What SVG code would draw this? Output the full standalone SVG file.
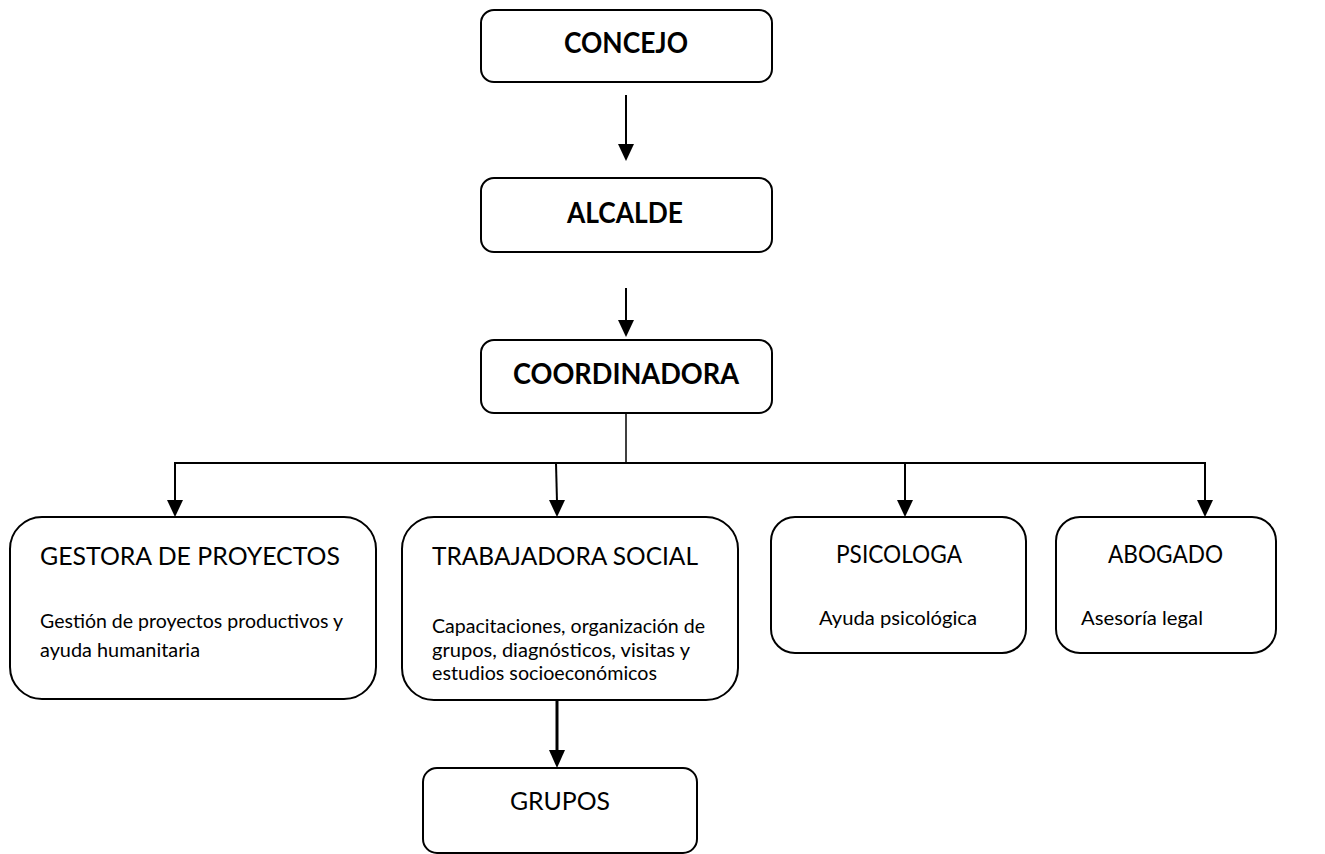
<svg xmlns="http://www.w3.org/2000/svg" width="1325" height="854" viewBox="0 0 1325 854">
<style>
.box{fill:#fff;stroke:#000;stroke-width:2}
.hb{font-family:Lato,"Open Sans","Liberation Sans",sans-serif;font-weight:bold;font-size:28px;fill:#000;text-anchor:middle}
.h{font-family:Lato,"Open Sans","Liberation Sans",sans-serif;font-size:25px;fill:#000}
.t{font-family:Lato,"Open Sans","Liberation Sans",sans-serif;font-size:18.5px;fill:#000}
.c{stroke:#000;stroke-width:2;fill:none}
</style>
<rect width="1325" height="854" fill="#fff"/>
<g id="connectors">
<line class="c" x1="626" y1="95" x2="626" y2="146"/>
<path d="M618,144 L634,144 L626,161 Z"/>
<line class="c" x1="626" y1="288" x2="626" y2="322"/>
<path d="M618,320 L634,320 L626,337 Z"/>
<line x1="626" y1="413" x2="626" y2="463" stroke="#000" stroke-width="1.5"/>
<line class="c" x1="174" y1="463" x2="1206" y2="463"/>
<line class="c" x1="175" y1="463" x2="175" y2="502"/>
<path d="M167,500 L183,500 L175,517 Z"/>
<line class="c" x1="556" y1="463" x2="557" y2="502"/>
<path d="M549,500 L565,500 L557,517 Z"/>
<line class="c" x1="905" y1="463" x2="905" y2="502"/>
<path d="M897,500 L913,500 L905,517 Z"/>
<line class="c" x1="1205" y1="463" x2="1205" y2="502"/>
<path d="M1197,500 L1213,500 L1205,517 Z"/>
<line x1="557" y1="700" x2="557" y2="752" stroke="#000" stroke-width="3"/>
<path d="M549,750 L565,750 L557,768 Z"/>
</g>
<g id="concejo">
<rect class="box" x="481" y="10" width="291" height="72" rx="13"/>
<text class="hb" x="626" y="53" textLength="124" lengthAdjust="spacingAndGlyphs">CONCEJO</text>
</g>
<g id="alcalde">
<rect class="box" x="481" y="178" width="291" height="74" rx="13"/>
<text class="hb" x="625" y="223" textLength="116" lengthAdjust="spacingAndGlyphs">ALCALDE</text>
</g>
<g id="coordinadora">
<rect class="box" x="481" y="340" width="291" height="73" rx="13"/>
<text class="hb" x="626" y="384" textLength="226" lengthAdjust="spacingAndGlyphs">COORDINADORA</text>
</g>
<g id="gestora">
<rect class="box" x="10" y="517" width="366" height="182" rx="32"/>
<text class="h" x="40" y="565" textLength="300" lengthAdjust="spacingAndGlyphs">GESTORA DE PROYECTOS</text>
<text class="t" x="40" y="628" textLength="303" lengthAdjust="spacingAndGlyphs">Gestión de proyectos productivos y</text>
<text class="t" x="40" y="657" textLength="160" lengthAdjust="spacingAndGlyphs">ayuda humanitaria</text>
</g>
<g id="trabajadora">
<rect class="box" x="402" y="517" width="336" height="183" rx="32"/>
<text class="h" x="432" y="565" textLength="266" lengthAdjust="spacingAndGlyphs">TRABAJADORA SOCIAL</text>
<text class="t" x="432" y="633" textLength="273" lengthAdjust="spacingAndGlyphs">Capacitaciones, organización de</text>
<text class="t" x="432" y="657" textLength="258" lengthAdjust="spacingAndGlyphs">grupos, diagnósticos, visitas y</text>
<text class="t" x="432" y="680" textLength="225" lengthAdjust="spacingAndGlyphs">estudios socioeconómicos</text>
</g>
<g id="psicologa">
<rect class="box" x="771" y="517" width="255" height="136" rx="24"/>
<text class="h" x="836" y="563" textLength="126" lengthAdjust="spacingAndGlyphs">PSICOLOGA</text>
<text class="t" x="819" y="625" textLength="158" lengthAdjust="spacingAndGlyphs">Ayuda psicológica</text>
</g>
<g id="abogado">
<rect class="box" x="1056" y="517" width="220" height="136" rx="24"/>
<text class="h" x="1108" y="563" textLength="115" lengthAdjust="spacingAndGlyphs">ABOGADO</text>
<text class="t" x="1081" y="625" textLength="122" lengthAdjust="spacingAndGlyphs">Asesoría legal</text>
</g>
<g id="grupos">
<rect class="box" x="423" y="768" width="274" height="85" rx="14"/>
<text class="h" x="510" y="810" textLength="100" lengthAdjust="spacingAndGlyphs">GRUPOS</text>
</g>
</svg>
